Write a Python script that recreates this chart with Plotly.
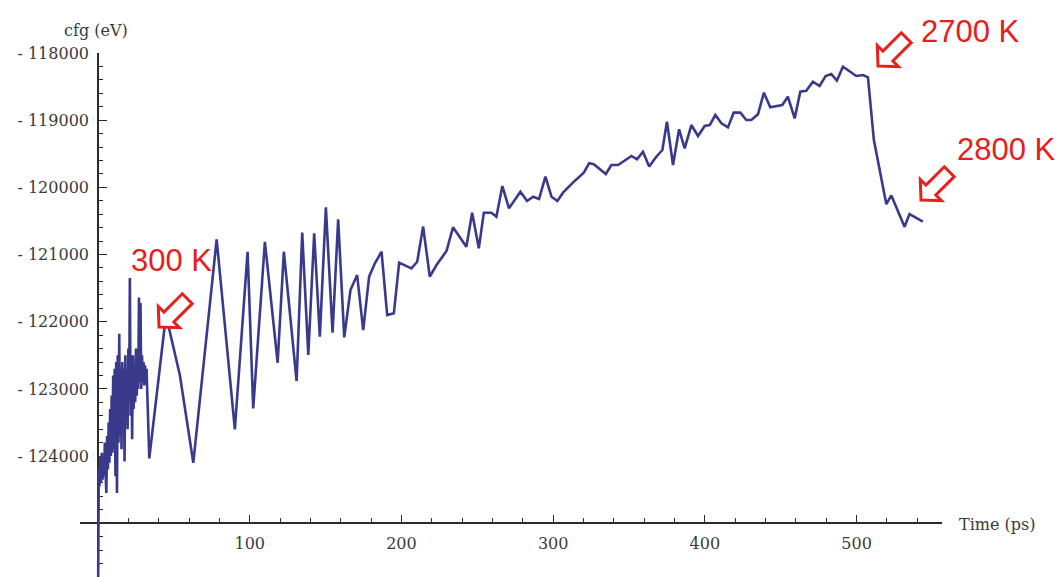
import math
import plotly.graph_objects as go

# Configuration energy of the MD run versus simulation time
time_ps = [
    0.0, 0.5, 1.0, 1.5, 2.0, 2.5, 3.0, 3.5, 4.0, 4.5, 5.0, 5.5, 6.0, 6.5, 7.0, 7.5,
    8.0, 8.5, 9.0, 9.5, 10.0, 10.5, 11.0, 11.5, 12.0, 12.5, 13.0, 13.5, 14.0, 14.5,
    15.0, 15.5, 16.0, 16.5, 17.0, 17.5, 18.0, 18.5, 19.0, 19.5, 20.0, 20.5, 21.0,
    21.5, 22.0, 22.5, 23.0, 23.5, 24.0, 24.5, 25.0, 25.5, 26.0, 26.5, 27.0, 27.5,
    28.0, 28.5, 29.0, 29.5, 30.0, 30.5, 31.0, 31.5, 32.0,
    33.8, 44.8, 54.0, 62.8, 78.2, 90.2, 98.6, 102.3, 110.0, 118.4, 122.5, 130.9,
    134.6, 138.6, 142.5, 146.2, 150.2, 154.6, 158.3, 162.3, 166.4, 170.8, 174.8,
    178.7, 182.5, 186.9, 190.6, 195.0, 198.5, 206.6, 210.4, 214.3, 218.7, 223.1,
    229.7, 234.0, 242.8, 246.6, 251.0, 254.3, 259.3, 262.6, 266.5, 270.9, 278.4,
    282.8, 286.8, 290.7, 294.9, 298.9, 302.8, 306.5, 313.0, 320.2, 323.7, 326.8,
    334.7, 338.4, 342.8, 351.6, 355.3, 359.2, 363.3, 368.0, 372.0, 375.0, 379.0,
    383.0, 386.7, 391.1, 395.5, 399.9, 403.2, 406.9, 410.9, 415.2, 419.0, 423.4,
    427.3, 430.6, 435.0, 438.9, 443.1, 451.0, 454.7, 459.2, 462.9, 466.8, 471.2,
    475.6, 479.6, 483.3, 487.0, 491.0, 495.4, 499.8, 504.2, 507.5, 511.4, 519.6,
    522.9, 531.6, 534.9, 543.7,
]

energy_ev = [
    -126300, -124200, -124450, -124000, -124400, -123950, -124350, -124050, -124300,
    -123800, -124250, -124550, -123700, -124200, -123500, -124100, -123300, -124000,
    -123100, -123950, -122800, -123900, -122700, -124300, -122600, -124550, -122500,
    -123800, -122180, -123700, -122700, -123900, -122600, -123600, -122700, -124080,
    -122500, -123500, -122700, -123600, -122400, -123200, -121350, -123400, -122600,
    -123750, -122500, -123300, -122700, -123200, -122400, -123100, -122600, -123000,
    -121640, -122900, -121720, -123000, -122500, -122900, -122600, -122950, -122650,
    -122900, -122700,
    -124035, -121900, -122800, -124100, -120773, -123602, -120958, -123290, -120810,
    -122611, -120958, -122883, -120673, -122496, -120685, -122223, -120297, -122164,
    -120476, -122233, -121528, -121305, -122124, -121330, -121131, -120958, -121900,
    -121875, -121121, -121206, -121107, -120584, -121330, -121156, -120948, -120595,
    -120883, -120377, -120908, -120377, -120377, -120437, -119980, -120313, -120065,
    -120203, -120139, -120174, -119841, -120139, -120203, -120079, -119930, -119781,
    -119642, -119657, -119801, -119667, -119667, -119533, -119582, -119469, -119690,
    -119544, -119444, -119022, -119667, -119136, -119419, -119072, -119236, -119087,
    -119072, -118923, -119047, -119107, -118888, -118888, -118997, -118997, -118913,
    -118591, -118809, -118774, -118650, -118973, -118576, -118561, -118427, -118491,
    -118342, -118313, -118412, -118204, -118278, -118342, -118328, -118362, -119295,
    -120250, -120120, -120586, -120397, -120511,
]

y_tick_values = [-118000, -119000, -120000, -121000, -122000, -123000, -124000]
y_tick_labels = ["- 118000", "- 119000", "- 120000", "- 121000", "- 122000",
                 "- 123000", "- 124000"]
x_tick_values = [100, 200, 300, 400, 500]
x_tick_labels = ["100", "200", "300", "400", "500"]

# Temperature markers: label text, label position (px), arrow tip (px)
temp_labels = ["300 K", "2700 K", "2800 K"]
label_pos_px = [(129, 260), (919, 31.5), (955, 150)]
arrow_tip_px = [(159, 327), (878, 66), (921, 200)]

W, H = 1056, 577
M_L, M_R, M_T, M_B = 80, 114, 53, 0
PLOT_W = W - M_L - M_R
PLOT_H = H - M_T - M_B

X_RANGE = [-11.87, 556.3]
Y_RANGE = [-125800, -118000]
X_CROSS = -125000  # energy level where the time axis sits

LINE_COLOR = "#3a3a8c"
AXIS_COLOR = "#2a2a2a"
TEXT_COLOR = "#3a3a3a"
RED = "#e5201d"
SERIF = "DejaVu Serif"


def paper_x(px):
    return (px - M_L) / PLOT_W


def paper_y(py):
    return (H - M_B - py) / PLOT_H


def block_arrow_path():
    """Hollow block arrow pointing down-left, tip at the origin (pixel units, y up)."""
    pts = [(0, 0), (-14, 15), (-14, 7), (-40, 7), (-40, -7), (-14, -7), (-14, -15)]
    c = math.sqrt(0.5)
    out = []
    for a, b in pts:
        X = -c * a + c * b
        Y = -c * a - c * b
        out.append(f"{X:.2f},{Y:.2f}")
    return "M " + " L ".join(out) + " Z"


fig = go.Figure()
fig.add_trace(go.Scatter(
    x=time_ps, y=energy_ev, mode="lines",
    line=dict(color=LINE_COLOR, width=2.6),
    hoverinfo="skip", showlegend=False,
))

y_axis_pos = (0 - X_RANGE[0]) / (X_RANGE[1] - X_RANGE[0])
x_axis_pos = (X_CROSS - Y_RANGE[0]) / (Y_RANGE[1] - Y_RANGE[0])

fig.update_layout(
    width=W, height=H,
    margin=dict(l=M_L, r=M_R, t=M_T, b=M_B, pad=0),
    paper_bgcolor="white", plot_bgcolor="white",
    xaxis=dict(
        range=X_RANGE, anchor="free", position=x_axis_pos,
        showgrid=False, zeroline=False, layer="below traces",
        showline=True, linecolor=AXIS_COLOR, linewidth=1.6,
        tickmode="array", tickvals=x_tick_values, ticktext=x_tick_labels,
        ticks="inside", ticklen=7, tickwidth=1.3, tickcolor=AXIS_COLOR,
        minor=dict(tickmode="linear", tick0=0, dtick=20, ticks="inside",
                   ticklen=4.5, tickwidth=1.1, tickcolor=AXIS_COLOR),
        tickfont=dict(family=SERIF, size=16, color=TEXT_COLOR),
        ticklabelstandoff=6,
    ),
    yaxis=dict(
        range=Y_RANGE, anchor="free", position=y_axis_pos,
        showgrid=False, zeroline=False, layer="below traces",
        showline=True, linecolor=AXIS_COLOR, linewidth=1.6,
        tickmode="array", tickvals=y_tick_values, ticktext=y_tick_labels,
        ticks="inside", ticklen=8, tickwidth=1.3, tickcolor=AXIS_COLOR,
        minor=dict(tickmode="linear", tick0=-126000, dtick=200, ticks="inside",
                   ticklen=4.5, tickwidth=1.1, tickcolor=AXIS_COLOR),
        tickfont=dict(family=SERIF, size=16, color=TEXT_COLOR),
        ticklabelstandoff=5,
    ),
)

# Axis titles placed at the ends of the axes
fig.add_annotation(text="cfg (eV)", xref="paper", yref="paper",
                   x=paper_x(96), y=paper_y(30), xanchor="center", yanchor="middle",
                   showarrow=False, font=dict(family=SERIF, size=16, color=TEXT_COLOR))
fig.add_annotation(text="Time (ps)", xref="paper", yref="paper",
                   x=paper_x(997), y=paper_y(524), xanchor="center", yanchor="middle",
                   showarrow=False, font=dict(family=SERIF, size=16, color=TEXT_COLOR))

arrow_path = block_arrow_path()
for text, (lx, ly), (tx, ty) in zip(temp_labels, label_pos_px, arrow_tip_px):
    fig.add_annotation(text=text, xref="paper", yref="paper",
                       x=paper_x(lx), y=paper_y(ly), xanchor="left", yanchor="middle",
                       showarrow=False,
                       font=dict(family="Liberation Sans", size=31, color=RED))
    fig.add_shape(type="path", xref="paper", yref="paper",
                  xsizemode="pixel", ysizemode="pixel",
                  xanchor=paper_x(tx), yanchor=paper_y(ty),
                  path=arrow_path, line=dict(color=RED, width=3),
                  fillcolor="white", layer="above")

fig.write_html("out.html")
